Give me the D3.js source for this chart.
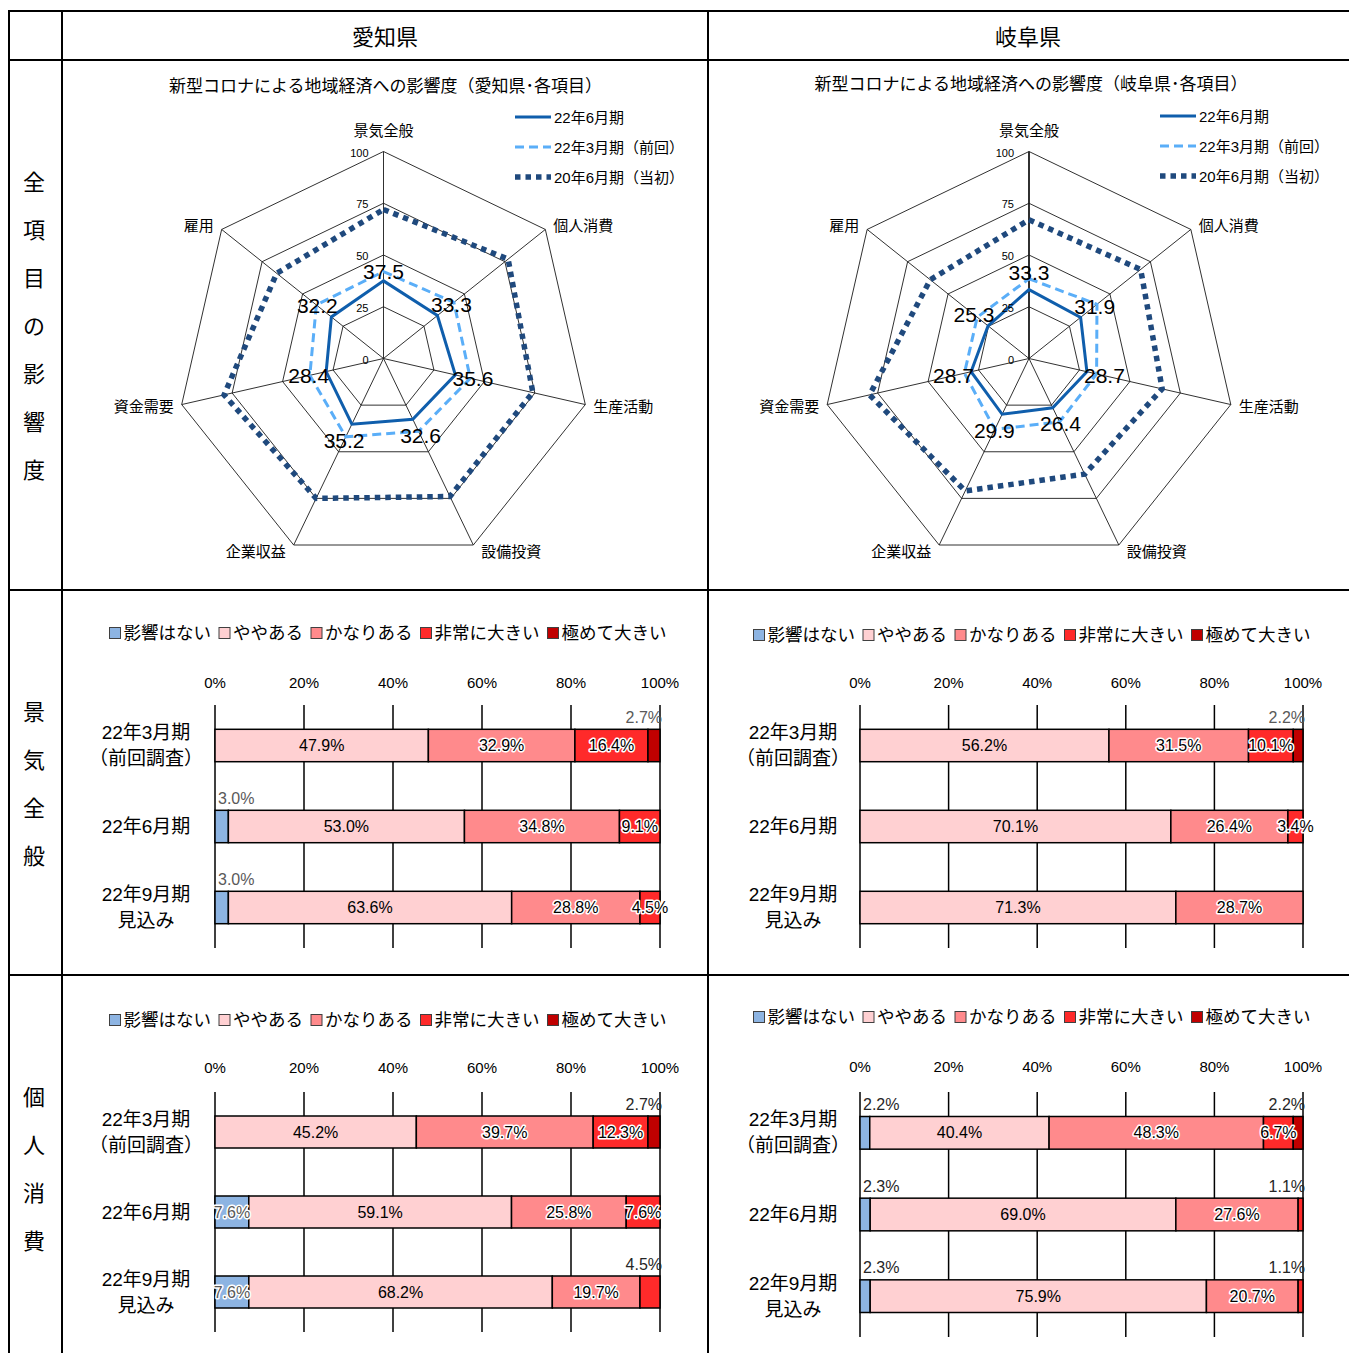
<!DOCTYPE html>
<html><head><meta charset="utf-8">
<script src="https://cdn.jsdelivr.net/npm/d3@7"></script>
<style>
body{margin:0;background:#fff}
svg{display:block}
text{font-family:'Liberation Sans','Noto Sans CJK JP',sans-serif;fill:#000}
</style>
</head><body>
<svg id="c" width="1349" height="1353"></svg>
<script>
// ---- data ----
const prefectures = ["愛知県", "岐阜県"];
const rowTitles = ["全項目の影響度", "景気全般", "個人消費"];

const radarAxes = ["景気全般", "個人消費", "生産活動", "設備投資", "企業収益", "資金需要", "雇用"];
const radarTicks = [0, 25, 50, 75, 100];
const radarSeriesNames = ["22年6月期", "22年3月期（前回）", "20年6月期（当初）"];
const aichiJun22 = [37.5, 33.3, 35.6, 32.6, 35.2, 28.4, 32.2];
const aichiMar22 = [42, 43.5, 43, 39, 42, 36.5, 41.5];
const aichiJun20 = [72, 77, 74, 74, 75, 79, 66];
const gifuJun22 = [33.3, 31.9, 28.7, 26.4, 29.9, 28.7, 25.3];
const gifuMar22 = [38.5, 42, 33.5, 34, 38, 32, 32];
const gifuJun20 = [67, 69, 66, 62, 71, 79, 61];

const levels = ["影響はない", "ややある", "かなりある", "非常に大きい", "極めて大きい"];
const periods = ["22年3月期\n（前回調査）", "22年6月期", "22年9月期\n見込み"];
const pctTicks = [0, 20, 40, 60, 80, 100];
// rows follow periods, columns follow levels (%)
const aichiEconomy = [[0, 47.9, 32.9, 16.4, 2.7], [3.0, 53.0, 34.8, 9.1, 0], [3.0, 63.6, 28.8, 4.5, 0]];
const gifuEconomy = [[0, 56.2, 31.5, 10.1, 2.2], [0, 70.1, 26.4, 3.4, 0], [0, 71.3, 28.7, 0, 0]];
const aichiConsumption = [[0, 45.2, 39.7, 12.3, 2.7], [7.6, 59.1, 25.8, 7.6, 0], [7.6, 68.2, 19.7, 4.5, 0]];
const gifuConsumption = [[2.2, 40.4, 48.3, 6.7, 2.2], [2.3, 69.0, 27.6, 1.1, 0], [2.3, 75.9, 20.7, 1.1, 0]];

// ---- styles ----
const levelColors = ["#8db4e2", "#ffd0d2", "#ff8a8c", "#ff2a2a", "#c00000"];
const seriesStyles = [
  {color: "#0f5eac", width: 3, dash: null},
  {color: "#5aaef8", width: 3, dash: "9 5"},
  {color: "#1f497d", width: 5.5, dash: "5.5 5"}
];

const svg = d3.select("#c");

// ---- table frame ----
const frame = svg.append("g").attr("stroke", "#000").attr("stroke-width", 2);
[11, 60, 590, 975].forEach(y => frame.append("line").attr("x1", 8).attr("x2", 1349).attr("y1", y).attr("y2", y));
[9, 62, 708].forEach(x => frame.append("line").attr("x1", x).attr("x2", x).attr("y1", 10).attr("y2", 1353));

[385, 1028].forEach((x, i) => svg.append("text").attr("x", x).attr("y", 37)
  .attr("text-anchor", "middle").attr("dominant-baseline", "central")
  .style("font-size", "22px").text(prefectures[i]));

[326, 784, 1169].forEach((cy, i) => {
  const chars = Array.from(rowTitles[i]);
  chars.forEach((ch, k) => svg.append("text").attr("x", 34)
    .attr("y", cy + (k - (chars.length - 1) / 2) * 48)
    .attr("text-anchor", "middle").attr("dominant-baseline", "central")
    .style("font-size", "22px").text(ch));
});

// ---- radar charts ----
function drawRadar(p) {
  const g = svg.append("g").attr("transform", `translate(${p.cx},${p.cy})`);
  const n = radarAxes.length;
  const angle = d3.scaleLinear().domain([0, n]).range([0, 2 * Math.PI]);
  const r = d3.scaleLinear().domain([0, 100]).range([0, p.R]);
  const at = (i, rad) => [rad * Math.sin(angle(i)), -rad * Math.cos(angle(i))];

  const ring = d3.lineRadial().angle((d, i) => angle(i)).radius(d => r(d)).curve(d3.curveLinearClosed);
  radarTicks.filter(t => t > 0).forEach(t =>
    g.append("path").attr("d", ring(radarAxes.map(() => t)))
      .attr("fill", "none").attr("stroke", "#1a1a1a").attr("stroke-width", 0.9));
  radarAxes.forEach((a, i) => {
    const [x, y] = at(i, r(100));
    g.append("line").attr("x1", 0).attr("y1", 0).attr("x2", x).attr("y2", y)
      .attr("stroke", "#1a1a1a").attr("stroke-width", i === 0 ? p.valueAxisWidth : 0.9);
  });

  // series, drawn back to front
  [2, 1, 0].forEach(s => {
    const st = seriesStyles[s];
    g.append("path").attr("d", ring(p.series[s]))
      .attr("fill", "none").attr("stroke", st.color).attr("stroke-width", st.width)
      .attr("stroke-dasharray", st.dash).attr("stroke-linejoin", "miter");
  });

  radarTicks.forEach(t => g.append("text").attr("x", -15).attr("y", -r(t) + 1)
    .attr("text-anchor", "end").attr("dominant-baseline", "central")
    .style("font-size", "11px").text(t));

  // value labels of the latest series
  p.series[0].forEach((v, i) => {
    const [x, y] = at(i, r(v) + (i === 0 ? p.topLabelGap : 18));
    g.append("text").attr("x", x).attr("y", y).attr("text-anchor", "middle")
      .attr("dominant-baseline", "central").style("font-size", "21px").text(v.toFixed(1));
  });

  radarAxes.forEach((a, i) => {
    const [vx, vy] = at(i, r(100));
    const s = Math.sin(angle(i)), c = Math.cos(angle(i));
    const top = Math.abs(s) < 0.1;
    g.append("text").attr("x", vx + (top ? 0 : Math.sign(s) * 8))
      .attr("y", vy - c * (top ? 21 : 7))
      .attr("text-anchor", top ? "middle" : (s > 0 ? "start" : "end"))
      .attr("dominant-baseline", "central").style("font-size", "15px").text(a);
  });

  svg.append("text").attr("x", p.cx + 2).attr("y", p.titleY).attr("text-anchor", "middle")
    .attr("dominant-baseline", "central").style("font-size", "17px").text(p.title);

  radarSeriesNames.forEach((name, s) => {
    const st = seriesStyles[s];
    const y = p.legendY + s * 30;
    svg.append("line").attr("x1", p.legendX).attr("x2", p.legendX + 36).attr("y1", y).attr("y2", y)
      .attr("stroke", st.color).attr("stroke-width", st.width).attr("stroke-dasharray", st.dash);
    svg.append("text").attr("x", p.legendX + 39).attr("y", y).attr("dominant-baseline", "central")
      .style("font-size", "15px").text(name);
  });
}

drawRadar({title: "新型コロナによる地域経済への影響度（愛知県･各項目）", series: [aichiJun22, aichiMar22, aichiJun20],
  cx: 383.5, cy: 358.5, R: 207, titleY: 86, legendX: 515, legendY: 117, valueAxisWidth: 0.9, topLabelGap: 9});
drawRadar({title: "新型コロナによる地域経済への影響度（岐阜県･各項目）", series: [gifuJun22, gifuMar22, gifuJun20],
  cx: 1029, cy: 358.5, R: 207, titleY: 84, legendX: 1160, legendY: 116, valueAxisWidth: 1.8, topLabelGap: 17});

// ---- 100% stacked bar charts ----
function drawBars(c) {
  const g = svg.append("g");
  const x = d3.scaleLinear().domain([0, 1]).range([c.x0, c.x1]);
  const y = d3.scaleBand().domain(periods).range([c.top, c.bottom]).paddingInner(0.6).paddingOuter(0.3);
  const stack = d3.stack().keys(d3.range(levels.length)).offset(d3.stackOffsetExpand);
  const layers = stack(c.data);

  // legend
  const lg = g.append("g");
  let lx = 0;
  levels.forEach((name, k) => {
    lg.append("rect").attr("x", lx).attr("y", -5.5).attr("width", 11).attr("height", 11)
      .attr("fill", levelColors[k]).attr("stroke", "#404040").attr("stroke-width", 1);
    const t = lg.append("text").attr("x", lx + 14).attr("y", 0).attr("dominant-baseline", "central")
      .style("font-size", "17.5px").text(name);
    lx += 14 + t.node().getComputedTextLength() + 8;
  });
  lg.attr("transform", `translate(${c.legendCx - (lx - 8) / 2},${c.legendY})`);

  // percent axis on top, with full-height gridlines
  g.selectAll(".tick").data(pctTicks).join("text")
    .attr("x", d => x(d / 100)).attr("y", c.tickY).attr("text-anchor", "middle")
    .attr("dominant-baseline", "central").style("font-size", "15px").text(d => d + "%");
  g.selectAll(".grid").data(pctTicks).join("line")
    .attr("x1", d => x(d / 100)).attr("x2", d => x(d / 100)).attr("y1", c.top).attr("y2", c.bottom)
    .attr("stroke", "#000").attr("stroke-width", 1.5);

  // bars
  layers.forEach((layer, k) => {
    layer.forEach((seg, i) => {
      if (c.data[i][k] <= 0) return;
      g.append("rect").attr("x", x(seg[0])).attr("y", y(periods[i]))
        .attr("width", x(seg[1]) - x(seg[0])).attr("height", y.bandwidth())
        .attr("fill", levelColors[k]).attr("stroke", "#000").attr("stroke-width", 1.5);
    });
  });

  // value labels
  layers.forEach((layer, k) => {
    layer.forEach((seg, i) => {
      const v = c.data[i][k];
      if (v <= 0) return;
      const label = v.toFixed(1) + "%";
      const outside = v < 3.2 || c.outside.some(o => o[0] === i && o[1] === k);
      const yb = y(periods[i]);
      if (outside) {
        const left = (seg[0] + seg[1]) / 2 < 0.5;
        g.append("text").attr("x", left ? x(seg[0]) + 3 : x(seg[1]) + 2).attr("y", yb - 12)
          .attr("text-anchor", left ? "start" : "end").attr("dominant-baseline", "central")
          .style("font-size", "16px").style("fill", c.outsideColor).text(label);
      } else {
        const t = g.append("text").attr("x", x((seg[0] + seg[1]) / 2)).attr("y", yb + y.bandwidth() / 2)
          .attr("text-anchor", "middle").attr("dominant-baseline", "central")
          .style("font-size", "16px").text(label);
        if (k !== 1) t.style("stroke", "#fff").style("stroke-width", 3).style("paint-order", "stroke")
          .style("stroke-linejoin", "round");
        if (k === 0) t.style("fill", "#595959");
      }
    });
  });

  // period labels
  periods.forEach(pname => {
    const lines = pname.split("\n");
    const cy = y(pname) + y.bandwidth() / 2;
    lines.forEach((ln, j) => g.append("text").attr("x", c.labelX)
      .attr("y", cy + (j - (lines.length - 1) / 2) * 26)
      .attr("text-anchor", "middle").attr("dominant-baseline", "central")
      .style("font-size", "19px").text(ln));
  });
}

drawBars({data: aichiEconomy, x0: 215, x1: 660, top: 705, bottom: 948, legendCx: 388, legendY: 633,
  tickY: 682, labelX: 146, outside: [], outsideColor: "#595959"});
drawBars({data: gifuEconomy, x0: 860, x1: 1303, top: 705, bottom: 948, legendCx: 1032, legendY: 635,
  tickY: 682, labelX: 793, outside: [], outsideColor: "#595959"});
drawBars({data: aichiConsumption, x0: 215, x1: 660, top: 1092, bottom: 1332, legendCx: 388, legendY: 1020,
  tickY: 1067, labelX: 146, outside: [[2, 3]], outsideColor: "#262626"});
drawBars({data: gifuConsumption, x0: 860, x1: 1303, top: 1092, bottom: 1337, legendCx: 1032, legendY: 1017,
  tickY: 1066, labelX: 793, outside: [], outsideColor: "#262626"});
</script>
</body></html>
